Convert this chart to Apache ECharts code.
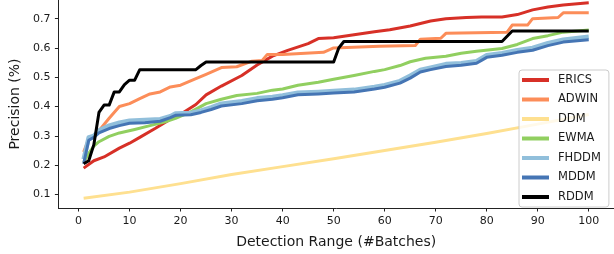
<!DOCTYPE html>
<html>
<head>
<meta charset="utf-8">
<script src="https://cdn.jsdelivr.net/npm/echarts@6/dist/echarts.min.js"></script>
<style>
html,body{margin:0;padding:0;background:#fff;}
#chart{width:614px;height:254px;}
</style>
</head>
<body>
<div id="chart"></div>
<script>
// ---- data ----
const seriesNames = ['ERICS', 'ADWIN', 'DDM', 'EWMA', 'FHDDM', 'MDDM', 'RDDM'];

const ericsX = [1,3,5,8,10,12,15,18,20,23,25,28,32,35,38,41,45,47,50,54,58,61,65,69,72,76,79,83,86,89,92,95,100];
const ericsY = [0.19,0.215,0.228,0.258,0.275,0.295,0.325,0.357,0.374,0.407,0.44,0.47,0.506,0.542,0.572,0.592,0.615,0.632,0.635,0.645,0.655,0.662,0.675,0.692,0.70,0.704,0.706,0.706,0.714,0.73,0.74,0.747,0.754];

const adwinX = [1,2,3,4,6,8,10,12,14,16,18,20,23,25,28,31,34,36,37,40,48,50,59,66,67,71,72,84,85,88,89,94,95,100];
const adwinY = [0.245,0.29,0.30,0.318,0.36,0.40,0.41,0.427,0.443,0.45,0.467,0.473,0.495,0.51,0.533,0.536,0.555,0.557,0.578,0.578,0.585,0.60,0.606,0.608,0.63,0.633,0.65,0.654,0.678,0.678,0.70,0.704,0.72,0.72];

const ddmX = [1,10,20,30,40,50,60,70,80,90,100];
const ddmY = [0.087,0.108,0.137,0.168,0.195,0.222,0.25,0.278,0.308,0.34,0.373];

const ewmaX = [1,2,3,4,6,8,11,14,17,19,22,25,28,31,35,38,40,43,47,50,54,58,60,63,65,68,72,75,78,83,86,89,92,95,100];
const ewmaY = [0.21,0.24,0.265,0.28,0.298,0.31,0.322,0.335,0.348,0.36,0.382,0.41,0.425,0.438,0.445,0.456,0.46,0.473,0.483,0.493,0.506,0.52,0.526,0.54,0.553,0.565,0.572,0.582,0.589,0.598,0.612,0.632,0.642,0.654,0.661];

const fhddmX = [1,2,3,4,6,8,10,13,16,18,19,22,24,26,28,32,35,38,40,43,47,50,54,58,60,63,65,67,69,72,75,78,80,83,86,89,92,95,100];
const fhddmY = [0.22,0.295,0.30,0.318,0.335,0.345,0.352,0.354,0.357,0.367,0.376,0.378,0.386,0.397,0.41,0.418,0.428,0.433,0.438,0.447,0.45,0.453,0.457,0.467,0.473,0.487,0.505,0.525,0.533,0.545,0.548,0.555,0.575,0.582,0.592,0.60,0.616,0.628,0.638];

const mddmX = [1,2,3,4,6,8,10,13,16,18,19,22,24,26,28,32,35,38,40,43,47,50,54,58,60,63,65,67,69,72,75,78,80,83,86,89,92,95,100];
const mddmY = [0.205,0.285,0.295,0.31,0.325,0.335,0.343,0.345,0.35,0.362,0.37,0.372,0.38,0.39,0.402,0.41,0.42,0.425,0.43,0.44,0.443,0.446,0.45,0.46,0.466,0.48,0.497,0.518,0.526,0.537,0.541,0.548,0.568,0.575,0.585,0.592,0.608,0.62,0.628];

const rddmX = [1,2,3,4,5,6,7,8,9,10,11,12,23,24,25,50,51,52,83,84,85,100];
const rddmY = [0.205,0.215,0.27,0.38,0.405,0.405,0.45,0.45,0.475,0.49,0.49,0.526,0.526,0.54,0.552,0.552,0.60,0.622,0.622,0.64,0.658,0.658];

const xTicks = [0,10,20,30,40,50,60,70,80,90,100];
const yTicks = [0.1,0.2,0.3,0.4,0.5,0.6,0.7];
const yTickLabels = ['0.1','0.2','0.3','0.4','0.5','0.6','0.7'];

// ---- styling ----
const colors = ['#d73027','#fc8d59','#fee090','#91cf60','#91bfdb','#4575b4','#000000'];
const widths = [3,3,3,3,4.5,3,3];
const xs = [ericsX, adwinX, ddmX, ewmaX, fhddmX, mddmX, rddmX];
const ys = [ericsY, adwinY, ddmY, ewmaY, fhddmY, mddmY, rddmY];

function pairs(x, y) { return x.map((v, i) => [v, y[i]]); }

const font = 'DejaVu Sans';
const chart = echarts.init(document.getElementById('chart'), null, {renderer: 'canvas'});
chart.setOption({
  animation: false,
  backgroundColor: '#ffffff',
  grid: {left: 45.5, right: 0, top: 0, bottom: 39, containLabel: false},
  xAxis: {
    type: 'value',
    min: -3.95, max: 104.95,
    name: 'Detection Range (#Batches)',
    nameLocation: 'middle',
    nameGap: 27,
    nameTextStyle: {fontFamily: font, fontSize: 14, color: '#1a1a1a'},
    axisLine: {show: true, onZero: false, lineStyle: {color: '#222', width: 1}},
    axisTick: {show: true, length: 3.5, inside: false, customValues: xTicks, lineStyle: {color: '#222'}},
    axisLabel: {customValues: xTicks, fontFamily: font, fontSize: 11, color: '#1a1a1a', margin: 8},
    splitLine: {show: false}
  },
  yAxis: {
    type: 'value',
    min: 0.0538, max: 0.7637,
    name: 'Precision (%)',
    nameLocation: 'middle',
    nameGap: 29,
    nameTextStyle: {fontFamily: font, fontSize: 14, color: '#1a1a1a'},
    axisLine: {show: true, onZero: false, lineStyle: {color: '#222', width: 1}},
    axisTick: {show: true, length: 3.5, inside: false, customValues: yTicks, lineStyle: {color: '#222'}},
    axisLabel: {
      customValues: yTicks, fontFamily: font, fontSize: 11, color: '#1a1a1a', margin: 8,
      formatter: v => { const i = yTicks.findIndex(t => Math.abs(t - v) < 1e-6); return i >= 0 ? yTickLabels[i] : ''; }
    },
    splitLine: {show: false}
  },
  legend: {
    orient: 'vertical',
    left: 519, top: 70,
    width: 89,
    padding: [3, 8, 3, 3],
    itemGap: 5.5,
    itemWidth: 27, itemHeight: 4,
    icon: 'rect',
    backgroundColor: 'rgba(255,255,255,0.8)',
    borderColor: '#cccccc', borderWidth: 1, borderRadius: 3,
    textStyle: {fontFamily: font, fontSize: 11.5, color: '#1a1a1a', lineHeight: 14, padding: [0, 0, 0, 4]},
    data: seriesNames
  },
  series: seriesNames.map((n, i) => ({
    name: n,
    type: 'line',
    data: pairs(xs[i], ys[i]),
    symbol: 'none',
    color: colors[i],
    lineStyle: {color: colors[i], width: widths[i], join: 'round'},
    itemStyle: {color: colors[i]},
    emphasis: {disabled: true}
  }))
});
</script>
</body>
</html>
